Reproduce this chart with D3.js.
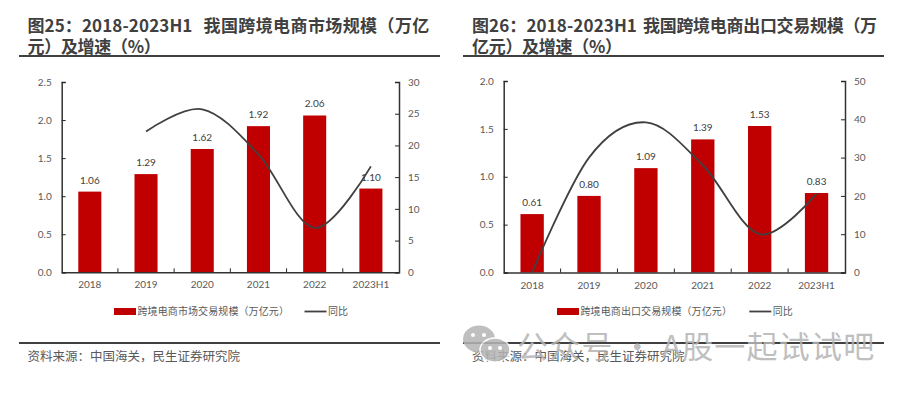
<!DOCTYPE html>
<html>
<head>
<meta charset="utf-8">
<script src="https://cdn.jsdelivr.net/npm/d3@7"></script>
<style>
html, body { margin: 0; padding: 0; background: #fff; }
svg { display: block; }
text { font-family: Lato, "Noto Sans CJK SC", sans-serif; }
.cjk { font-family: "Noto Sans CJK SC", sans-serif; }
</style>
</head>
<body>
<svg id="chart" width="912" height="393"></svg>
<script>
// chart data
var years = ["2018", "2019", "2020", "2021", "2022", "2023H1"];

var marketSize = [1.06, 1.29, 1.62, 1.92, 2.06, 1.10];
var marketGrowth = [null, 22.2, 25.7, 18.6, 7.0, 16.7];
var marketLeftTicks = [0, 0.5, 1.0, 1.5, 2.0, 2.5];
var marketRightTicks = [0, 5, 10, 15, 20, 25, 30];

var exportSize = [0.61, 0.80, 1.09, 1.39, 1.53, 0.83];
var exportGrowth = [0, 30, 39.2, 28, 10, 20.6];
var exportLeftTicks = [0, 0.5, 1.0, 1.5, 2.0];
var exportRightTicks = [0, 10, 20, 30, 40, 50];

var svg = d3.select("#chart");

function titlePiece(g, x, y, spacing, str) {
    g.append("text")
        .attr("class", "cjk")
        .attr("x", x)
        .attr("y", y)
        .attr("font-size", 17)
        .attr("font-weight", 700)
        .attr("letter-spacing", spacing)
        .attr("fill", "#404040")
        .text(str);
}

function drawPanel(cfg) {
    var g = svg.append("g");

    // heading, first line is split so the latin part and the cjk part can sit like the original
    titlePiece(g, cfg.titleX, 32, 0.1, cfg.titleHead);
    titlePiece(g, cfg.titleRestX, 32, cfg.titleSpacing, cfg.titleRest);
    titlePiece(g, cfg.titleX, 52.5, -0.3, cfg.titleLine2);

    g.append("rect").attr("x", cfg.ruleX).attr("y", 55).attr("width", 421).attr("height", 2).attr("fill", "#404040");
    g.append("rect").attr("x", cfg.ruleX).attr("y", 342).attr("width", 421).attr("height", 2).attr("fill", "#404040");

    g.append("text")
        .attr("class", "cjk")
        .attr("x", cfg.titleX)
        .attr("y", 360.5)
        .attr("font-size", 12.5)
        .attr("fill", "#595959")
        .text("资料来源：中国海关，民生证券研究院");

    var x = d3.scaleBand().domain(years).range([cfg.left, cfg.right]).paddingInner(0.59).paddingOuter(0.295);
    var yL = d3.scaleLinear().domain([0, cfg.leftMax]).range([cfg.bottom, cfg.top]);
    var yR = d3.scaleLinear().domain([0, cfg.rightMax]).range([cfg.bottom, cfg.top]);

    // bars
    g.selectAll(".bar")
        .data(cfg.bars)
        .enter().append("rect")
        .attr("class", "bar")
        .attr("x", function(d, i) { return x(years[i]); })
        .attr("y", function(d) { return yL(d); })
        .attr("width", x.bandwidth())
        .attr("height", function(d) { return cfg.bottom - yL(d); })
        .attr("fill", "#C00000");

    // axes
    var axisL = d3.axisLeft(yL).tickValues(cfg.leftTicks).tickSize(-4).tickPadding(10).tickFormat(d3.format(".1f"));
    var axisR = d3.axisRight(yR).tickValues(cfg.rightTicks).tickSize(-4).tickPadding(9).tickFormat(d3.format("d"));
    var axisX = d3.axisBottom(x).tickSize(0).tickPadding(9);

    var gx = g.append("g").attr("transform", "translate(0," + cfg.bottom + ")").call(axisX);
    var gl = g.append("g").attr("transform", "translate(" + cfg.left + ",0)").call(axisL);
    var gr = g.append("g").attr("transform", "translate(" + cfg.right + ",0)").call(axisR);

    // ticks on the category boundaries
    var step = x.step();
    g.selectAll(".xtick")
        .data(d3.range(1, years.length))
        .enter().append("line")
        .attr("x1", function(d) { return cfg.left + d * step; })
        .attr("x2", function(d) { return cfg.left + d * step; })
        .attr("y1", cfg.bottom)
        .attr("y2", cfg.bottom - 4)
        .attr("stroke", "#262626");

    [gx, gl, gr].forEach(function(a) {
        a.selectAll("path").attr("stroke", "#333").attr("stroke-width", 1.5);
        a.selectAll("line").attr("stroke", "#262626");
        a.selectAll("text").attr("font-size", 10).attr("fill", "#595959").attr("font-family", "Lato");
    });

    // growth line
    var line = d3.line()
        .defined(function(d) { return d != null; })
        .x(function(d, i) { return x(years[i]) + x.bandwidth() / 2; })
        .y(function(d) { return yR(d); })
        .curve(d3.curveCardinal.tension(0));

    g.append("path")
        .datum(cfg.growth)
        .attr("d", line)
        .attr("fill", "none")
        .attr("stroke", "#404040")
        .attr("stroke-width", 1.8);

    // bar labels
    g.selectAll(".val")
        .data(cfg.bars)
        .enter().append("text")
        .attr("class", "val")
        .attr("x", function(d, i) { return x(years[i]) + x.bandwidth() / 2; })
        .attr("y", function(d) { return yL(d) - 8; })
        .attr("text-anchor", "middle")
        .attr("font-size", 10)
        .attr("fill", "#404040")
        .text(function(d) { return d.toFixed(2); });

    // legend
    g.append("rect").attr("x", cfg.legendX).attr("y", 308).attr("width", 22).attr("height", 7).attr("fill", "#C00000");
    g.append("text").attr("class", "cjk").attr("x", cfg.legendX + 23.5).attr("y", 315.3)
        .attr("font-size", 10).attr("letter-spacing", 0.1).attr("fill", "#595959").text(cfg.legendBar);
    g.append("line").attr("x1", cfg.legendLineX).attr("x2", cfg.legendLineX + 22).attr("y1", 311.5).attr("y2", 311.5)
        .attr("stroke", "#404040").attr("stroke-width", 1.8);
    g.append("text").attr("class", "cjk").attr("x", cfg.legendLineX + 23.5).attr("y", 315.3)
        .attr("font-size", 10).attr("fill", "#595959").text("同比");
}

drawPanel({
    titleHead: "图25：2018-2023H1",
    titleRest: "我国跨境电商市场规模（万亿",
    titleLine2: "元）及增速（%）",
    titleX: 27.5, titleRestX: 203.5, titleSpacing: 0.4, ruleX: 19,
    left: 61.7, right: 399, top: 82, bottom: 272.3,
    leftMax: 2.5, rightMax: 30,
    leftTicks: marketLeftTicks, rightTicks: marketRightTicks,
    bars: marketSize, growth: marketGrowth,
    legendX: 114, legendLineX: 304.5,
    legendBar: "跨境电商市场交易规模（万亿元）"
});

drawPanel({
    titleHead: "图26：2018-2023H1",
    titleRest: "我国跨境电商出口交易规模（万",
    titleLine2: "亿元）及增速（%）",
    titleX: 472, titleRestX: 643, titleSpacing: -0.3, ruleX: 463,
    left: 503.7, right: 845, top: 81, bottom: 272.5,
    leftMax: 2.0, rightMax: 50,
    leftTicks: exportLeftTicks, rightTicks: exportRightTicks,
    bars: exportSize, growth: exportGrowth,
    legendX: 557, legendLineX: 749.3,
    legendBar: "跨境电商出口交易规模（万亿元）"
});

// watermark over the second panel
var wm = svg.append("g").attr("opacity", 0.85);
wm.append("ellipse").attr("cx", 479).attr("cy", 339).attr("rx", 16).attr("ry", 13.5).attr("fill", "#b5b5b5");
wm.append("ellipse").attr("cx", 495).attr("cy", 350).attr("rx", 15).attr("ry", 12).attr("fill", "#b5b5b5").attr("stroke", "#fff").attr("stroke-width", 1.5);
[[473, 335], [484, 335], [490, 348], [500, 348]].forEach(function(p) {
    wm.append("circle").attr("cx", p[0]).attr("cy", p[1]).attr("r", 2).attr("fill", "#fff");
});
wm.append("text")
    .attr("class", "cjk")
    .attr("x", 517)
    .attr("y", 358)
    .attr("font-size", 31)
    .attr("letter-spacing", 1.2)
    .attr("fill", "#b5b5b5")
    .text("公众号 · A股一起试试吧");
</script>
</body>
</html>
